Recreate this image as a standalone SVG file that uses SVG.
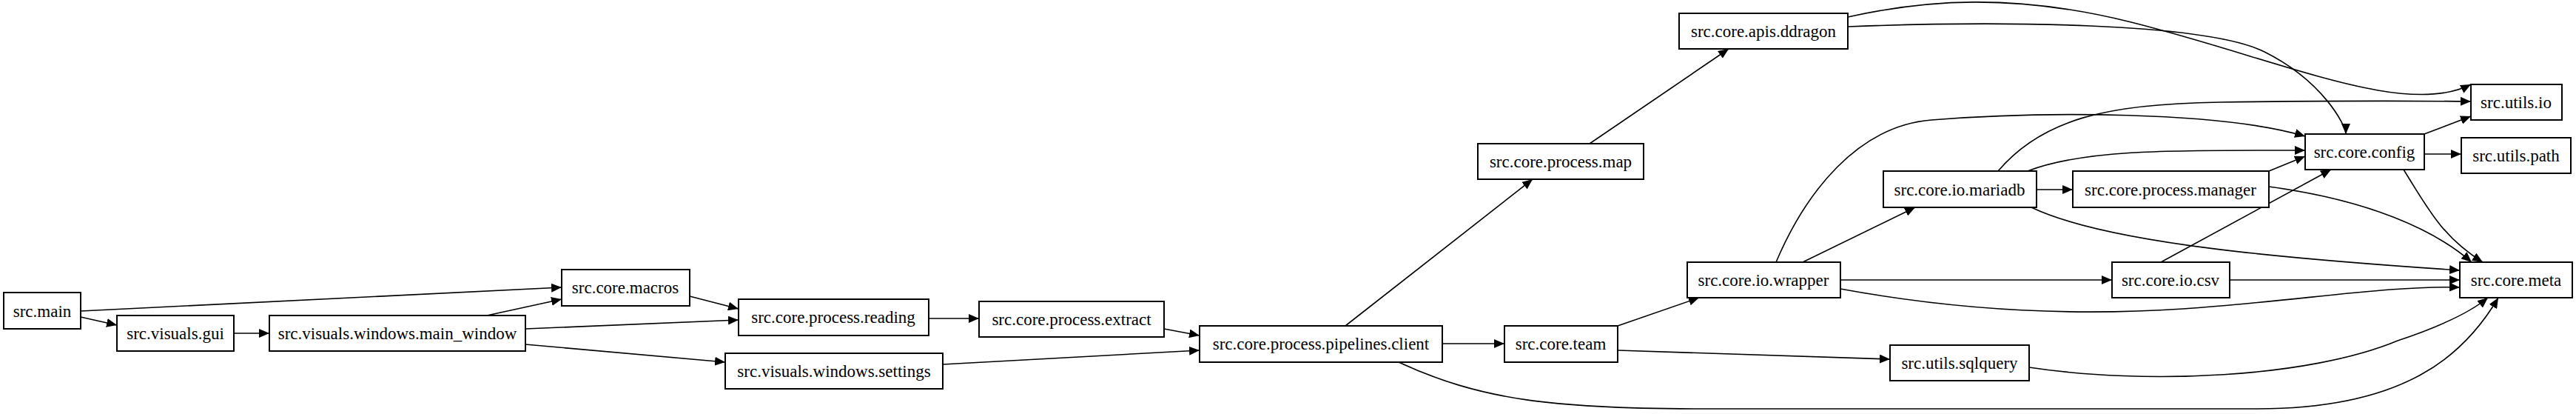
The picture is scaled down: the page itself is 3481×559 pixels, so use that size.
<svg xmlns="http://www.w3.org/2000/svg" width="3481" height="559" viewBox="0 0 3481 559">
<style>
.n rect{fill:#fff;stroke:#000;stroke-width:2}
.n text{font-family:"Liberation Serif",serif;font-size:23px;text-anchor:middle;dominant-baseline:central;fill:#000}
#edges path{fill:none;stroke:#000;stroke-width:1.6;marker-end:url(#a)}
</style>
<defs><marker id="a" markerUnits="userSpaceOnUse" markerWidth="16" markerHeight="12" refX="14" refY="6" orient="auto"><path d="M0,0L14,6L0,12z" fill="#000"/></marker></defs>
<rect width="3481" height="559" fill="#fff"/>
<g id="edges">
<path d="M109,420 L759,388"/>
<path d="M109,428 L158,439"/>
<path d="M316,450 L364,450"/>
<path d="M658,426 L759,404"/>
<path d="M710,444 L998,432"/>
<path d="M710,465 L980,489"/>
<path d="M932,400 L998,417"/>
<path d="M1255,430 L1323,430"/>
<path d="M1573,444 L1621,453"/>
<path d="M1274,492 L1621,473"/>
<path d="M1949,464 L2033,464"/>
<path d="M1818,440 L2071,242"/>
<path d="M1890,489 C2000,540 2100,552 2300,552 L3050,552 C3250,552 3330,480 3376,402"/>
<path d="M2148,194 L2336,66"/>
<path d="M2497,23 C2600,0 2720,-10 2880,30 C3080,80 3250,160 3339,114"/>
<path d="M2497,36 C2700,28 2980,30 3060,70 C3140,110 3170,170 3170,181"/>
<path d="M2186,440 L2296,402"/>
<path d="M2186,473 L2554,485"/>
<path d="M2436,354 L2588,280"/>
<path d="M2400,354 C2440,260 2510,170 2610,162 C2760,150 3000,150 3115,184"/>
<path d="M2487,378 L2854,378"/>
<path d="M2487,390 C2650,420 2800,427 2950,417 C3100,407 3230,385 3324,388"/>
<path d="M3013,378 L3324,378"/>
<path d="M2920,354 L3150,229"/>
<path d="M2752,256 L2801,256"/>
<path d="M2700,231 C2760,160 2850,140 3000,138 C3150,136 3250,136 3339,137"/>
<path d="M2740,231 C2820,200 2950,203 3115,203"/>
<path d="M2745,280 C2850,330 3100,350 3324,365"/>
<path d="M3066,231 L3115,211"/>
<path d="M3066,252 C3200,270 3290,310 3340,354"/>
<path d="M3276,181 L3339,157"/>
<path d="M3276,208 L3326,208"/>
<path d="M3248,229 C3280,280 3300,320 3355,354"/>
<path d="M2742,496 C2900,520 3120,510 3240,460 C3300,440 3340,420 3362,402"/>
</g>
<g id="src.main" class="n"><rect x="5" y="395" width="104" height="49"/><text x="57" y="420">src.main</text></g>
<g id="src.visuals.gui" class="n"><rect x="158" y="426" width="158" height="48"/><text x="237" y="450">src.visuals.gui</text></g>
<g id="src.visuals.windows.main_window" class="n"><rect x="364" y="426" width="346" height="48"/><text x="537" y="450">src.visuals.windows.main_window</text></g>
<g id="src.core.macros" class="n"><rect x="759" y="364" width="173" height="49"/><text x="845" y="388">src.core.macros</text></g>
<g id="src.visuals.windows.settings" class="n"><rect x="980" y="477" width="294" height="48"/><text x="1127" y="501">src.visuals.windows.settings</text></g>
<g id="src.core.process.reading" class="n"><rect x="998" y="404" width="257" height="49"/><text x="1126" y="428">src.core.process.reading</text></g>
<g id="src.core.process.extract" class="n"><rect x="1323" y="407" width="250" height="48"/><text x="1448" y="431">src.core.process.extract</text></g>
<g id="src.core.process.pipelines.client" class="n"><rect x="1621" y="440" width="328" height="49"/><text x="1785" y="464">src.core.process.pipelines.client</text></g>
<g id="src.core.team" class="n"><rect x="2033" y="440" width="153" height="49"/><text x="2109" y="464">src.core.team</text></g>
<g id="src.core.process.map" class="n"><rect x="1997" y="194" width="224" height="48"/><text x="2109" y="218">src.core.process.map</text></g>
<g id="src.core.apis.ddragon" class="n"><rect x="2269" y="18" width="228" height="48"/><text x="2383" y="42">src.core.apis.ddragon</text></g>
<g id="src.core.io.wrapper" class="n"><rect x="2280" y="354" width="207" height="48"/><text x="2383" y="378">src.core.io.wrapper</text></g>
<g id="src.core.io.mariadb" class="n"><rect x="2545" y="231" width="207" height="49"/><text x="2648" y="256">src.core.io.mariadb</text></g>
<g id="src.core.process.manager" class="n"><rect x="2801" y="231" width="265" height="49"/><text x="2933" y="256">src.core.process.manager</text></g>
<g id="src.utils.sqlquery" class="n"><rect x="2554" y="466" width="188" height="48"/><text x="2648" y="490">src.utils.sqlquery</text></g>
<g id="src.core.io.csv" class="n"><rect x="2854" y="354" width="159" height="48"/><text x="2933" y="378">src.core.io.csv</text></g>
<g id="src.core.config" class="n"><rect x="3115" y="181" width="161" height="48"/><text x="3195" y="205">src.core.config</text></g>
<g id="src.utils.io" class="n"><rect x="3339" y="114" width="123" height="48"/><text x="3400" y="138">src.utils.io</text></g>
<g id="src.utils.path" class="n"><rect x="3326" y="186" width="148" height="48"/><text x="3400" y="210">src.utils.path</text></g>
<g id="src.core.meta" class="n"><rect x="3324" y="354" width="152" height="48"/><text x="3400" y="378">src.core.meta</text></g>
</svg>
